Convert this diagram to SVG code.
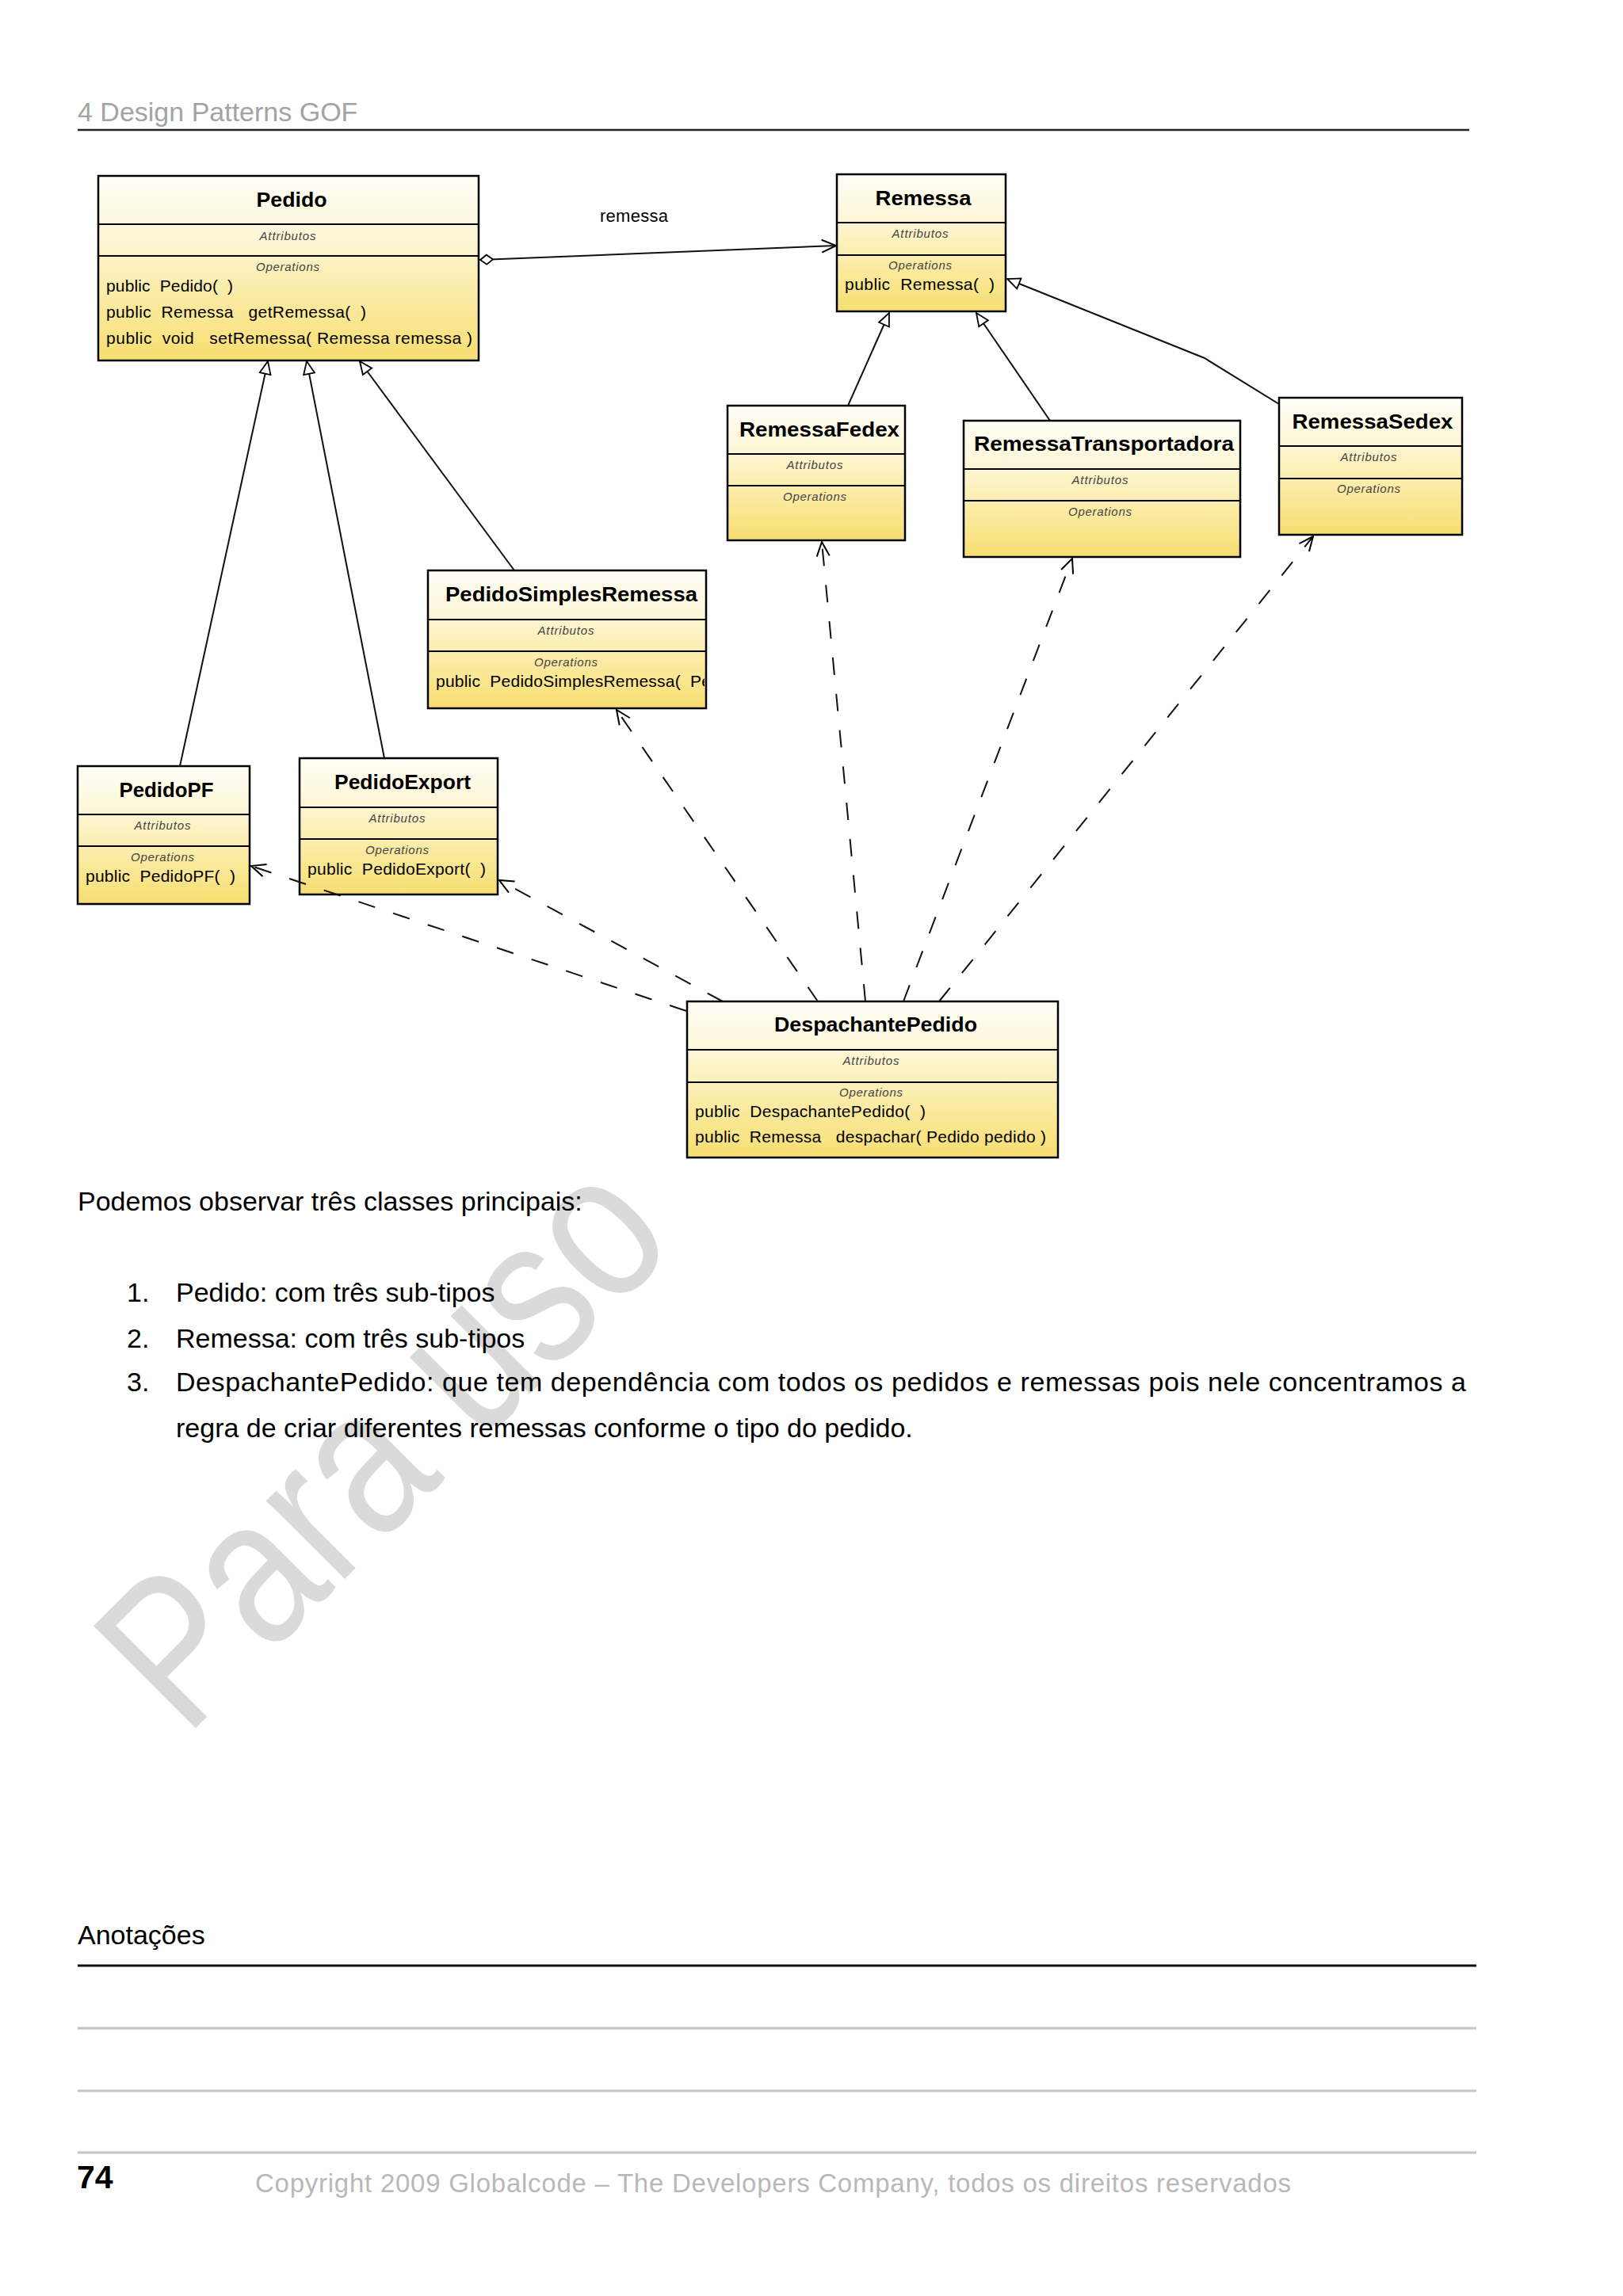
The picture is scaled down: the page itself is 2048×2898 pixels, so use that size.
<svg xmlns="http://www.w3.org/2000/svg" width="2048" height="2898" viewBox="0 0 2048 2898">
<defs>
<linearGradient id="boxfill" x1="0" y1="0" x2="0" y2="1">
<stop offset="0" stop-color="#fffef6"/>
<stop offset="0.3" stop-color="#fdf7da"/>
<stop offset="0.55" stop-color="#fcefb4"/>
<stop offset="1" stop-color="#f7de70"/>
</linearGradient>
<marker id="arrOpen" markerUnits="userSpaceOnUse" markerWidth="20" markerHeight="18" refX="18" refY="8" orient="auto" overflow="visible">
<path d="M0,0 L18,8 L0,16" fill="none" stroke="#000" stroke-width="2" stroke-dasharray="none"/>
</marker>
<marker id="tri" markerUnits="userSpaceOnUse" markerWidth="20" markerHeight="16" refX="17" refY="7" orient="auto" overflow="visible">
<path d="M1,0 L17,7 L1,14 Z" fill="#fff" stroke="#000" stroke-width="1.8"/>
</marker>
<marker id="dia" markerUnits="userSpaceOnUse" markerWidth="18" markerHeight="14" refX="0" refY="6" orient="auto" overflow="visible">
<path d="M0,6 L8,0 L16,6 L8,12 Z" fill="#fff" stroke="#000" stroke-width="1.8"/>
</marker>
<clipPath id="clipPSR"><rect x="541" y="822" width="348" height="70"/></clipPath>
<style>
.box{fill:url(#boxfill);stroke:#000;stroke-width:2.5}
.div{stroke:#000;stroke-width:2.2}
.name{font-family:"Liberation Sans",Arial,sans-serif;font-weight:bold;font-size:26px;fill:#000;text-anchor:middle}
.sec{font-family:"Liberation Sans",Arial,sans-serif;font-style:italic;font-size:15px;fill:#444;text-anchor:middle}
.op{font-family:"Liberation Sans",Arial,sans-serif;font-size:21px;fill:#000}
.gen{fill:none;stroke:#111;stroke-width:2;marker-end:url(#tri)}
.dep{fill:none;stroke:#111;stroke-width:2;stroke-dasharray:22 24;marker-end:url(#arrOpen)}
.assoc{fill:none;stroke:#111;stroke-width:2;marker-start:url(#dia);marker-end:url(#arrOpen)}
.lbl{font-family:"Liberation Sans",Arial,sans-serif;font-size:22px;fill:#000}
.body{font-family:"Liberation Sans",Arial,sans-serif;font-size:34px;fill:#000}
</style>
</defs>
<rect x="0" y="0" width="2048" height="2898" fill="#fff"/>

<g id="watermark">
<text x="0" y="0" transform="translate(234,2194) rotate(-45) scale(0.83,1)" font-family="Liberation Sans, Arial, sans-serif" font-size="265" fill="#dadada">Para uso</text>
</g>
<rect x="98" y="176" width="1765" height="1302" fill="#fff"/>

<g id="header">
<text x="98" y="153" font-family="Liberation Sans, Arial, sans-serif" font-size="34" fill="#a3a3a3">4 Design Patterns GOF</text>
<line x1="98" y1="164" x2="1854" y2="164" stroke="#222" stroke-width="2.5"/>
</g>

<g id="pedido">
<rect class="box" x="124" y="222" width="480" height="233"/>
<line class="div" x1="124" y1="283" x2="604" y2="283"/>
<line class="div" x1="124" y1="323" x2="604" y2="323"/>
<text class="name" x="368" y="261" textLength="89" lengthAdjust="spacingAndGlyphs">Pedido</text>
<text class="sec" x="363" y="303" textLength="71">Attributos</text>
<text class="sec" x="363" y="342" textLength="80">Operations</text>
<text class="op" x="134" y="368" textLength="160" xml:space="preserve">public  Pedido(  )</text>
<text class="op" x="134" y="401" textLength="328" xml:space="preserve">public  Remessa   getRemessa(  )</text>
<text class="op" x="134" y="434" textLength="462" xml:space="preserve">public  void   setRemessa( Remessa remessa )</text>
</g>

<g id="remessa">
<rect class="box" x="1056" y="220" width="213" height="173"/>
<line class="div" x1="1056" y1="281" x2="1269" y2="281"/>
<line class="div" x1="1056" y1="322" x2="1269" y2="322"/>
<text class="name" x="1165" y="259" textLength="121" lengthAdjust="spacingAndGlyphs">Remessa</text>
<text class="sec" x="1161" y="300" textLength="71">Attributos</text>
<text class="sec" x="1161" y="340" textLength="80">Operations</text>
<text class="op" x="1066" y="366" textLength="189" xml:space="preserve">public  Remessa(  )</text>
</g>

<g id="remessaFedex">
<rect class="box" x="918" y="512" width="224" height="170"/>
<line class="div" x1="918" y1="573" x2="1142" y2="573"/>
<line class="div" x1="918" y1="613" x2="1142" y2="613"/>
<text class="name" x="1034" y="551" textLength="202" lengthAdjust="spacingAndGlyphs">RemessaFedex</text>
<text class="sec" x="1028" y="592" textLength="71">Attributos</text>
<text class="sec" x="1028" y="632" textLength="80">Operations</text>
</g>

<g id="remessaTransportadora">
<rect class="box" x="1216" y="531" width="349" height="172"/>
<line class="div" x1="1216" y1="592" x2="1565" y2="592"/>
<line class="div" x1="1216" y1="632" x2="1565" y2="632"/>
<text class="name" x="1393" y="569" textLength="328" lengthAdjust="spacingAndGlyphs">RemessaTransportadora</text>
<text class="sec" x="1388" y="611" textLength="71">Attributos</text>
<text class="sec" x="1388" y="651" textLength="80">Operations</text>
</g>

<g id="remessaSedex">
<rect class="box" x="1614" y="502" width="231" height="173"/>
<line class="div" x1="1614" y1="563" x2="1845" y2="563"/>
<line class="div" x1="1614" y1="604" x2="1845" y2="604"/>
<text class="name" x="1732" y="541" textLength="203" lengthAdjust="spacingAndGlyphs">RemessaSedex</text>
<text class="sec" x="1727" y="582" textLength="71">Attributos</text>
<text class="sec" x="1727" y="622" textLength="80">Operations</text>
</g>

<g id="pedidoSimplesRemessa">
<rect class="box" x="540" y="720" width="351" height="174"/>
<line class="div" x1="540" y1="782" x2="891" y2="782"/>
<line class="div" x1="540" y1="822" x2="891" y2="822"/>
<text class="name" x="721" y="759" textLength="318" lengthAdjust="spacingAndGlyphs">PedidoSimplesRemessa</text>
<text class="sec" x="714" y="801" textLength="71">Attributos</text>
<text class="sec" x="714" y="841" textLength="80">Operations</text>
<text class="op" x="550" y="867" textLength="347" clip-path="url(#clipPSR)" xml:space="preserve">public  PedidoSimplesRemessa(  Pe</text>
</g>

<g id="pedidoPF">
<rect class="box" x="98" y="967" width="217" height="174"/>
<line class="div" x1="98" y1="1028" x2="315" y2="1028"/>
<line class="div" x1="98" y1="1068" x2="315" y2="1068"/>
<text class="name" x="210" y="1006" textLength="119" lengthAdjust="spacingAndGlyphs">PedidoPF</text>
<text class="sec" x="205" y="1047" textLength="71">Attributos</text>
<text class="sec" x="205" y="1087" textLength="80">Operations</text>
<text class="op" x="108" y="1113" textLength="189" xml:space="preserve">public  PedidoPF(  )</text>
</g>

<g id="pedidoExport">
<rect class="box" x="378" y="957" width="250" height="172"/>
<line class="div" x1="378" y1="1019" x2="628" y2="1019"/>
<line class="div" x1="378" y1="1059" x2="628" y2="1059"/>
<text class="name" x="508" y="996" textLength="172" lengthAdjust="spacingAndGlyphs">PedidoExport</text>
<text class="sec" x="501" y="1038" textLength="71">Attributos</text>
<text class="sec" x="501" y="1078" textLength="80">Operations</text>
<text class="op" x="388" y="1104" textLength="225" xml:space="preserve">public  PedidoExport(  )</text>
</g>

<g id="despachantePedido">
<rect class="box" x="867" y="1264" width="468" height="197"/>
<line class="div" x1="867" y1="1325" x2="1335" y2="1325"/>
<line class="div" x1="867" y1="1366" x2="1335" y2="1366"/>
<text class="name" x="1105" y="1302" textLength="256" lengthAdjust="spacingAndGlyphs">DespachantePedido</text>
<text class="sec" x="1099" y="1344" textLength="71">Attributos</text>
<text class="sec" x="1099" y="1384" textLength="80">Operations</text>
<text class="op" x="877" y="1410" textLength="291" xml:space="preserve">public  DespachantePedido(  )</text>
<text class="op" x="877" y="1442" textLength="443" xml:space="preserve">public  Remessa   despachar( Pedido pedido )</text>
</g>

<g id="connectors">
<path class="assoc" d="M606,328 L1055,310"/>
<text class="lbl" x="757" y="280" textLength="86">remessa</text>
<path class="gen" d="M227,967 L338,456"/>
<path class="gen" d="M485,957 L387,456"/>
<path class="gen" d="M649,720 L454,456"/>
<path class="gen" d="M1070,512 L1122,395"/>
<path class="gen" d="M1325,531 L1232,395"/>
<path class="gen" d="M1614,510 L1520,452 L1271,352"/>
<path class="dep" d="M866,1276 L317,1093"/>
<path class="dep" d="M912,1264 L630,1111"/>
<path class="dep" d="M1032,1264 L778,896"/>
<path class="dep" d="M1092,1264 L1037,684"/>
<path class="dep" d="M1140,1264 L1353,705"/>
<path class="dep" d="M1185,1264 L1657,677"/>
</g>

<g id="bodytext">
<text class="body" x="98" y="1528">Podemos observar três classes principais:</text>
<text class="body" x="160" y="1643">1.</text>
<text class="body" x="222" y="1643">Pedido: com três sub-tipos</text>
<text class="body" x="160" y="1701">2.</text>
<text class="body" x="222" y="1701">Remessa: com três sub-tipos</text>
<text class="body" x="160" y="1756">3.</text>
<text class="body" x="222" y="1756" textLength="1628">DespachantePedido: que tem dependência com todos os pedidos e remessas pois nele concentramos a</text>
<text class="body" x="222" y="1814">regra de criar diferentes remessas conforme o tipo do pedido.</text>
</g>

<g id="footer">
<text class="body" x="98" y="2454">Anotações</text>
<line x1="98" y1="2481" x2="1863" y2="2481" stroke="#111" stroke-width="3"/>
<line x1="98" y1="2560" x2="1863" y2="2560" stroke="#c4c4c4" stroke-width="3"/>
<line x1="98" y1="2639" x2="1863" y2="2639" stroke="#c4c4c4" stroke-width="3"/>
<line x1="98" y1="2717" x2="1863" y2="2717" stroke="#c4c4c4" stroke-width="3"/>
<text x="97" y="2762" font-family="Liberation Sans, Arial, sans-serif" font-weight="bold" font-size="41" fill="#000">74</text>
<text x="322" y="2767" font-family="Liberation Sans, Arial, sans-serif" font-size="33" fill="#b8b8b8" textLength="1307">Copyright 2009 Globalcode – The Developers Company, todos os direitos reservados</text>
</g>
</svg>
